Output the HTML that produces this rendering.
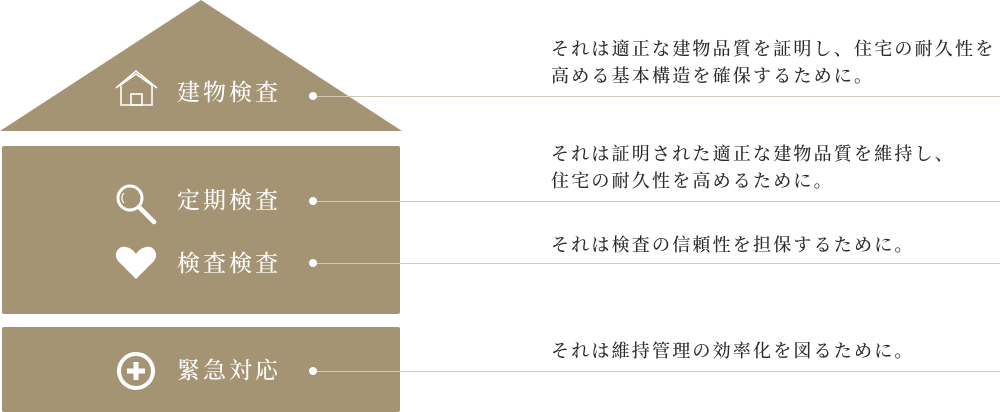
<!DOCTYPE html>
<html><head><meta charset="utf-8"><style>
html,body{margin:0;padding:0;background:#fff;}
body{width:1000px;height:412px;position:relative;overflow:hidden;font-family:"Liberation Serif","Noto Serif CJK SC",serif;}
.lbl{position:absolute;left:177px;color:#fff;font-size:23px;letter-spacing:3px;line-height:30px;white-space:nowrap;font-weight:500;}
.t{position:absolute;left:551px;color:#2a2a2a;font-size:18px;letter-spacing:2.2px;line-height:27px;white-space:nowrap;font-weight:500;}
.ln{position:absolute;left:313px;right:0;height:1px;background:#d4cab5;}
.dot{position:absolute;left:309px;width:8px;height:8px;border-radius:50%;background:#fff;}
</style></head><body>
<svg width="1000" height="412" style="position:absolute;left:0;top:0">
<polygon points="201,0 402,131 0,131" fill="#a59474"/>
<rect x="2" y="146" width="398" height="168" rx="2" fill="#a59474"/>
<rect x="2" y="327" width="398" height="85" rx="2" fill="#a59474"/>
<g fill="none" stroke="#fff" stroke-width="1.6">
<polyline points="116,88 136,71 157,88"/>
<polyline points="119,86 136,74 153,86"/>
<polyline points="121,86 121,105 152,105 152,86"/>
<rect x="131" y="94" width="11" height="11"/>
</g>
<g fill="none" stroke="#fff">
<circle cx="130" cy="198" r="12" stroke-width="3"/>
<line x1="139" y1="207" x2="154" y2="222" stroke-width="4.5" stroke-linecap="round"/>
<path d="M124 193 A7 7 0 0 0 124 203" stroke-width="1.2"/>
</g>
<path d="M136 279 L119 262 C112 255 118 245 126 247 C131 248 134 251 136 254 C138 251 141 248 146 247 C154 245 160 255 153 262 Z" fill="#fff"/>
<circle cx="136" cy="371" r="17" fill="none" stroke="#fff" stroke-width="4"/>
<path d="M136 362 V380 M127 371 H145" stroke="#fff" stroke-width="5"/>
</svg>
<div class="lbl" style="top:78px">建物検査</div>
<div class="lbl" style="top:186px">定期検査</div>
<div class="lbl" style="top:249px">検査検査</div>
<div class="lbl" style="top:356px">緊急対応</div>
<div class="ln" style="top:96px"></div><div class="dot" style="top:92px"></div>
<div class="ln" style="top:201px"></div><div class="dot" style="top:197px"></div>
<div class="ln" style="top:263px"></div><div class="dot" style="top:259px"></div>
<div class="ln" style="top:371px"></div><div class="dot" style="top:367px"></div>
<div class="t" style="top:36px">それは適正な建物品質を証明し、住宅の耐久性を<br>高める基本構造を確保するために。</div>
<div class="t" style="top:141px">それは証明された適正な建物品質を維持し、<br>住宅の耐久性を高めるために。</div>
<div class="t" style="top:232px">それは検査の信頼性を担保するために。</div>
<div class="t" style="top:338px">それは維持管理の効率化を図るために。</div>
</body></html>
